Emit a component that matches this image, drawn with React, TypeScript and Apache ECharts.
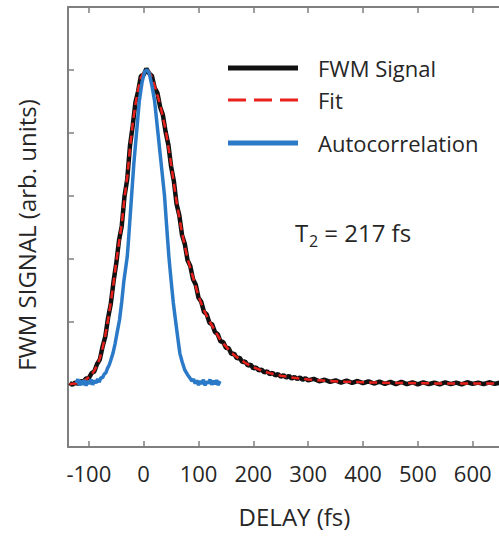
import React, { useEffect, useRef } from "react";
import * as echarts from "echarts";

// ---- data ----
const xTickValues = [-100, 0, 100, 200, 300, 400, 500, 600];

const fwmDelay = [
  -135, -130, -125, -120, -115, -110, -105, -100, -95, -90, -85, -80, -75, -70, -65, -60, -55, -50, -45, -40,
  -35, -30, -25, -20, -15, -10, -5, 0, 5, 10, 15, 20, 25, 30, 35, 40, 45, 50, 55, 60,
  65, 70, 75, 80, 85, 90, 95, 100, 105, 110, 115, 120, 125, 130, 135, 140, 145, 150, 155, 160,
  165, 170, 175, 180, 185, 190, 195, 200, 205, 210, 215, 220, 225, 230, 235, 240, 245, 250, 255, 260,
  265, 270, 275, 280, 285, 290, 295, 300, 310, 320, 330, 340, 350, 360, 370, 380, 390, 400, 410, 420,
  430, 440, 450, 460, 470, 480, 490, 500, 510, 520, 530, 540, 550, 560, 570, 580, 590, 600, 610, 620,
  630, 640, 650,
];
const fwmSignal = [
  0.004, -0.002, 0.005, 0.001, 0.009, 0.007, 0.018, 0.019, 0.035, 0.04, 0.064, 0.078, 0.119, 0.151, 0.21, 0.255, 0.326, 0.384, 0.457, 0.503,
  0.597, 0.652, 0.758, 0.822, 0.897, 0.933, 0.981, 0.984, 1.004, 0.989, 0.981, 0.943, 0.927, 0.882, 0.857, 0.803, 0.762, 0.693, 0.647, 0.573,
  0.537, 0.474, 0.446, 0.394, 0.376, 0.334, 0.316, 0.275, 0.262, 0.23, 0.222, 0.195, 0.19, 0.166, 0.159, 0.136, 0.134, 0.116, 0.114, 0.096,
  0.097, 0.082, 0.084, 0.07, 0.072, 0.059, 0.062, 0.05, 0.053, 0.044, 0.046, 0.037, 0.041, 0.032, 0.036, 0.028, 0.032, 0.024, 0.028, 0.021,
  0.026, 0.018, 0.023, 0.016, 0.021, 0.014, 0.019, 0.012, 0.017, 0.009, 0.014, 0.007, 0.012, 0.005, 0.011, 0.004, 0.01, 0.003, 0.009, 0.002,
  0.008, 0.001, 0.007, 0.0, 0.007, 0.0, 0.006, -0.001, 0.006, 0.0, 0.005, -0.001, 0.006, 0.0, 0.005, -0.001, 0.006, 0.001, 0.005, 0.0,
  0.006, 0.001, 0.005,
];

const fitDelay = [
  -135, -130, -125, -120, -115, -110, -105, -100, -95, -90, -85, -80, -75, -70, -65, -60, -55, -50, -45, -40,
  -35, -30, -25, -20, -15, -10, -5, 0, 5, 10, 15, 20, 25, 30, 35, 40, 45, 50, 55, 60,
  65, 70, 75, 80, 85, 90, 95, 100, 105, 110, 115, 120, 125, 130, 135, 140, 145, 150, 155, 160,
  165, 170, 175, 180, 185, 190, 195, 200, 210, 220, 230, 240, 250, 260, 270, 280, 290, 300, 320, 340,
  360, 380, 400, 450, 500, 550, 600, 648,
];
const fitValues = [
  0.0, 0.001, 0.002, 0.003, 0.006, 0.01, 0.015, 0.022, 0.031, 0.043, 0.06, 0.082, 0.115, 0.155, 0.205, 0.26, 0.32, 0.39, 0.45, 0.51,
  0.59, 0.66, 0.75, 0.83, 0.89, 0.94, 0.975, 0.99, 1.0, 0.995, 0.975, 0.95, 0.92, 0.89, 0.85, 0.81, 0.755, 0.7, 0.64, 0.58,
  0.53, 0.48, 0.44, 0.4, 0.37, 0.34, 0.31, 0.28, 0.257, 0.235, 0.217, 0.2, 0.185, 0.17, 0.155, 0.14, 0.13, 0.12, 0.11, 0.1,
  0.093, 0.086, 0.08, 0.074, 0.068, 0.063, 0.058, 0.054, 0.047, 0.04, 0.035, 0.031, 0.027, 0.024, 0.021, 0.019, 0.017, 0.015, 0.012, 0.01,
  0.008, 0.007, 0.006, 0.004, 0.003, 0.002, 0.002, 0.002,
];

const acDelay = [
  -123, -120, -117, -114, -111, -108, -105, -102, -99, -96, -93, -90, -87, -84, -81, -78, -75, -72, -69, -66,
  -63, -60, -56, -52, -48, -44, -40, -36, -32, -30, -28, -26, -22, -18, -13, -8, -3, 2, 6, 10,
  15, 20, 26, 32, 38, 42, 46, 50, 54, 58, 62, 66, 70, 75, 80, 84, 88, 91, 94, 97,
  100, 103, 106, 109, 112, 115, 118, 121, 124, 127, 130, 133, 136, 139,
];
const acValues = [
  0.004, 0.016, -0.004, 0.011, -0.002, 0.013, -0.005, 0.009, 0.001, 0.015, -0.002, 0.012, 0.003, 0.017, 0.006, 0.021, 0.02, 0.032, 0.036, 0.05,
  0.06, 0.076, 0.098, 0.13, 0.168, 0.205, 0.262, 0.33, 0.38, 0.405, 0.45, 0.5, 0.6, 0.7, 0.8, 0.9, 0.96, 0.995, 1.0, 0.99,
  0.95, 0.9, 0.8, 0.7, 0.6, 0.5, 0.405, 0.33, 0.26, 0.204, 0.15, 0.098, 0.072, 0.045, 0.03, 0.02, 0.01, 0.016, 0.002, 0.012,
  -0.003, 0.01, 0.001, 0.014, -0.004, 0.008, 0.003, 0.015, -0.002, 0.011, 0.0, 0.013, -0.003, 0.01,
];

const seriesNames = ["FWM Signal", "Fit", "Autocorrelation"];
const seriesColors = ["#111111", "#e8211d", "#2b7ac8"];

const FONT = "'Open Sans', 'DejaVu Sans', sans-serif";
const TEXT = "#262626";
const AXIS = "#7f7f7f";

export default function App() {
  const ref = useRef<HTMLDivElement>(null);

  useEffect(() => {
    if (!ref.current) return;
    const chart = echarts.init(ref.current, undefined, { renderer: "svg" });

    const zip = (xs: number[], ys: number[]) => xs.map((x, i) => [x, ys[i]]);

    const legendY = [68, 100, 143];
    const legendGraphics: any[] = [];
    seriesNames.forEach((name, i) => {
      legendGraphics.push({
        type: "line",
        shape: { x1: 228, y1: legendY[i], x2: 298, y2: legendY[i] },
        style: {
          stroke: seriesColors[i],
          lineWidth: i === 1 ? 3 : 5,
          lineDash: i === 1 ? [18, 8] : null,
        },
        silent: true,
      });
      legendGraphics.push({
        type: "text",
        x: 318,
        y: legendY[i],
        style: {
          text: name,
          fill: TEXT,
          font: `22px ${FONT}`,
          textVerticalAlign: "middle",
        },
      });
    });

    const option: any = {
      animation: false,
      backgroundColor: "#ffffff",
      grid: { left: 68, right: 0, top: 7, bottom: 90 },
      xAxis: [
        {
          type: "value",
          min: -138,
          max: 648,
          position: "bottom",
          name: "DELAY (fs)",
          nameLocation: "middle",
          nameGap: 57,
          nameTextStyle: { fontSize: 24, color: TEXT, fontFamily: FONT, padding: [0, 0, 0, 22] },
          axisLine: { show: true, onZero: false, lineStyle: { color: AXIS, width: 2 } },
          axisTick: { show: true, inside: true, length: 6, lineStyle: { color: AXIS, width: 1.5 }, customValues: xTickValues },
          axisLabel: { show: true, fontSize: 22, color: TEXT, fontFamily: FONT, margin: 15, customValues: xTickValues },
          splitLine: { show: false },
        },
        {
          type: "value",
          min: -138,
          max: 648,
          position: "top",
          axisLine: { show: true, onZero: false, lineStyle: { color: AXIS, width: 2 } },
          axisTick: { show: true, inside: true, length: 6, lineStyle: { color: AXIS, width: 1.5 }, customValues: xTickValues },
          axisLabel: { show: false },
          splitLine: { show: false },
        },
      ],
      yAxis: {
        type: "value",
        min: -0.2,
        max: 1.2,
        interval: 0.2,
        name: "FWM SIGNAL (arb. units)",
        nameLocation: "middle",
        nameGap: 30,
        nameTextStyle: { fontSize: 24, color: TEXT, fontFamily: FONT, padding: [0, 16, 0, 0] },
        axisLine: { show: true, onZero: false, lineStyle: { color: AXIS, width: 2 } },
        axisTick: { show: true, inside: true, length: 6, lineStyle: { color: AXIS, width: 1.5 } },
        axisLabel: { show: false },
        splitLine: { show: false },
      },
      series: [
        {
          name: seriesNames[0],
          type: "line",
          xAxisIndex: 0,
          data: zip(fwmDelay, fwmSignal),
          showSymbol: false,
          symbol: "none",
          lineStyle: { color: seriesColors[0], width: 4.5 },
          z: 2,
        },
        {
          name: seriesNames[1],
          type: "line",
          xAxisIndex: 0,
          data: zip(fitDelay, fitValues),
          showSymbol: false,
          symbol: "none",
          lineStyle: { color: seriesColors[1], width: 2.5, type: [8, 5] },
          z: 3,
        },
        {
          name: seriesNames[2],
          type: "line",
          xAxisIndex: 0,
          data: zip(acDelay, acValues),
          showSymbol: false,
          symbol: "none",
          lineStyle: { color: seriesColors[2], width: 3.5 },
          z: 4,
        },
      ],
      graphic: [
        ...legendGraphics,
        {
          type: "text",
          x: 295,
          y: 232,
          style: { text: "T", fill: TEXT, font: `24px ${FONT}`, textVerticalAlign: "middle" },
        },
        {
          type: "text",
          x: 309,
          y: 241,
          style: { text: "2", fill: TEXT, font: `16px ${FONT}`, textVerticalAlign: "middle" },
        },
        {
          type: "text",
          x: 318,
          y: 232,
          style: { text: " = 217 fs", fill: TEXT, font: `24px ${FONT}`, textVerticalAlign: "middle" },
        },
      ],
    };

    chart.setOption(option);
    return () => chart.dispose();
  }, []);

  return (
    <div
      ref={ref}
      style={{ position: "fixed", left: 0, top: 0, width: 499, height: 537 }}
    />
  );
}
